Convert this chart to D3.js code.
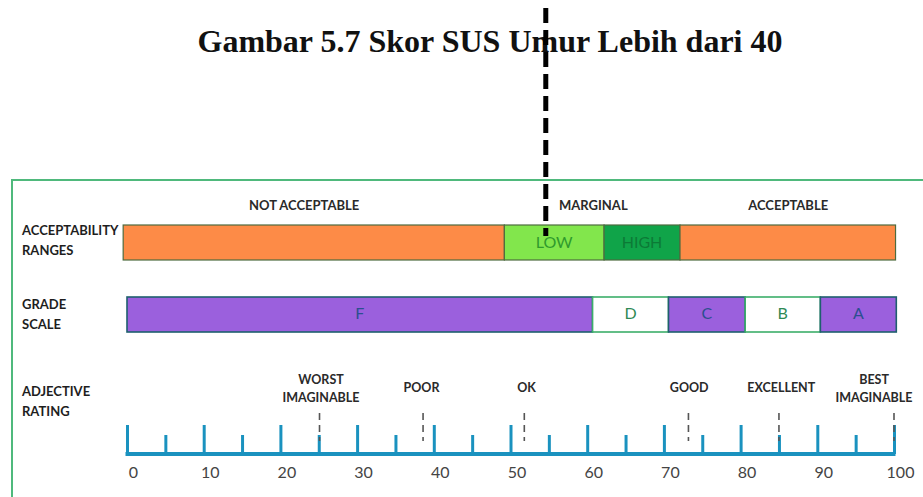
<!DOCTYPE html>
<html>
<head>
<meta charset="utf-8">
<script src="https://cdn.jsdelivr.net/npm/d3@7"></script>
<style>
  body { margin: 0; background: #fff; }
  svg { display: block; }
</style>
</head>
<body>
<svg class="sus" width="923" height="497"></svg>
<script>

// values
var title = "Gambar 5.7 Skor SUS Umur Lebih dari 40";
var score = 54.6;

var rowNames = [["ACCEPTABILITY", "RANGES"], ["GRADE", "SCALE"], ["ADJECTIVE", "RATING"]];

var rangeHeaders = ["NOT ACCEPTABLE", "MARGINAL", "ACCEPTABLE"];
var rangeHeaderAt = [23.1, 60.8, 86.2];
var rangeBounds = [-0.5, 49.2, 62.2, 72.1, 100.2];
var rangeLabels = ["", "LOW", "HIGH", ""];

var grades = ["F", "D", "C", "B", "A"];
var gradeBounds = [0, 60.7, 70.6, 80.6, 90.4, 100.3];

var adjectives = [["WORST", "IMAGINABLE"], ["POOR"], ["OK"], ["GOOD"], ["EXCELLENT"], ["BEST", "IMAGINABLE"]];
var adjectiveAt = [25.1, 38.6, 51.8, 73.2, 85.0, 100];
var adjectiveLabelAt = [25.3, 38.4, 52.1, 73.3, 85.3, 97.4];

var majorTicks = [0, 10, 20, 30, 40, 50, 60, 70, 80, 90, 100];
var minorTicks = [5, 15, 25, 35, 45, 55, 65, 75, 85, 95];

var svg = d3.select("svg.sus");

var x = d3.scaleLinear().domain([0, 100]).range([127, 894]);

var rangeFill = ["#fd8b47", "#82e64c", "#10a449", "#fd8b47"],
    rangeText = ["#000", "#2f9a2c", "#0c7a36", "#000"],
    gradeFill = {F: "#9b60dd", D: "#fff", C: "#9b60dd", B: "#fff", A: "#9b60dd"},
    gradeStroke = {F: "#1f5f6e", D: "#3cae6a", C: "#1f5f6e", B: "#3cae6a", A: "#1f5f6e"},
    gradeText = {F: "#2b4f8f", D: "#2f8a55", C: "#2b4f8f", B: "#2f8a55", A: "#2b4f8f"},
    axisBlue = "#1a92bf",
    sans = "Lato, 'Open Sans', sans-serif";

// title
svg.append("text")
  .attr("x", 490)
  .attr("y", 52)
  .attr("text-anchor", "middle")
  .style("font", "bold 32px 'Liberation Serif', 'Times New Roman', serif")
  .style("fill", "#111")
  .text(title);

// frame
svg.append("rect")
  .attr("x", 12).attr("y", 180)
  .attr("width", 940).attr("height", 340)
  .style("fill", "none")
  .style("stroke", "#4fb97c")
  .style("stroke-width", 2);

// row names
var rowY = [232, 306, 393];
rowNames.forEach(function(lines, i) {
  svg.append("text")
    .attr("x", 22)
    .attr("y", rowY[i])
    .style("font", "bold 13px " + sans)
    .style("fill", "#1e1e1e")
    .selectAll("tspan")
    .data(lines)
    .enter().append("tspan")
    .attr("x", 22)
    .attr("dy", function(d, j) { return j ? 20 : 0; })
    .attr("dominant-baseline", "middle")
    .text(function(d) { return d; });
});

// acceptability headers
svg.selectAll(".rangeHeader")
  .data(rangeHeaders)
  .enter().append("text")
  .attr("class", "rangeHeader")
  .attr("x", function(d, i) { return x(rangeHeaderAt[i]); })
  .attr("y", 207)
  .attr("text-anchor", "middle")
  .attr("dominant-baseline", "middle")
  .style("font", "bold 13px " + sans)
  .style("fill", "#2a2a2a")
  .text(function(d) { return d; });

// acceptability bar
var ranges = rangeLabels.map(function(d, i) {
  return {label: d, x0: rangeBounds[i], x1: rangeBounds[i + 1], i: i};
});

var rg = svg.selectAll(".range")
  .data(ranges)
  .enter().append("g")
  .attr("class", "range");

rg.append("rect")
  .attr("x", function(d) { return x(d.x0); })
  .attr("y", 225)
  .attr("width", function(d) { return x(d.x1) - x(d.x0); })
  .attr("height", 35)
  .style("fill", function(d) { return rangeFill[d.i]; })
  .style("stroke", "#4e6b3f")
  .style("stroke-width", 1.2);

rg.append("text")
  .attr("x", function(d) { return (x(d.x0) + x(d.x1)) / 2; })
  .attr("y", 244)
  .attr("text-anchor", "middle")
  .attr("dominant-baseline", "middle")
  .style("font", "16px " + sans)
  .style("fill", function(d) { return rangeText[d.i]; })
  .text(function(d) { return d.label; });

// grade bar
var gradeCells = grades.map(function(d, i) {
  return {grade: d, x0: gradeBounds[i], x1: gradeBounds[i + 1]};
});

var gg = svg.selectAll(".grade")
  .data(gradeCells)
  .enter().append("g")
  .attr("class", "grade");

gg.append("rect")
  .attr("x", function(d) { return x(d.x0); })
  .attr("y", 297)
  .attr("width", function(d) { return x(d.x1) - x(d.x0); })
  .attr("height", 35)
  .style("fill", function(d) { return gradeFill[d.grade]; })
  .style("stroke", function(d) { return gradeStroke[d.grade]; })
  .style("stroke-width", 1.6);

gg.append("text")
  .attr("x", function(d) { return (x(d.x0) + x(d.x1)) / 2; })
  .attr("y", 315)
  .attr("text-anchor", "middle")
  .attr("dominant-baseline", "middle")
  .style("font", "16px " + sans)
  .style("fill", function(d) { return gradeText[d.grade]; })
  .text(function(d) { return d.grade; });

// adjective rating scale
var baseY = 454;

var major = svg.append("g")
  .attr("transform", "translate(0," + baseY + ")")
  .call(d3.axisTop(x).tickValues(majorTicks).tickSize(29).tickFormat(""));

var minor = svg.append("g")
  .attr("transform", "translate(0," + baseY + ")")
  .call(d3.axisTop(x).tickValues(minorTicks).tickSize(19).tickFormat(""));

[major, minor].forEach(function(a) {
  a.select(".domain").remove();
  a.selectAll("line").style("stroke", axisBlue).style("stroke-width", 3);
});

svg.append("line")
  .attr("x1", x(0) - 1.5).attr("x2", x(100) + 1.5)
  .attr("y1", baseY).attr("y2", baseY)
  .style("stroke", axisBlue)
  .style("stroke-width", 4);

var labels = svg.append("g")
  .attr("transform", "translate(0," + (baseY + 12) + ")")
  .call(d3.axisBottom(x).tickValues(majorTicks).tickSize(0));

labels.select(".domain").remove();
labels.selectAll("text")
  .attr("dx", 6)
  .attr("dy", "0.35em")
  .attr("y", 6)
  .style("font", "16px " + sans)
  .style("fill", "#444");

// adjective markers
svg.selectAll(".adjMark")
  .data(adjectiveAt)
  .enter().append("line")
  .attr("class", "adjMark")
  .attr("x1", function(d) { return x(d); })
  .attr("x2", function(d) { return x(d); })
  .attr("y1", 413)
  .attr("y2", 441)
  .style("stroke", "#555")
  .style("stroke-width", 1.6)
  .style("stroke-dasharray", "7,5");

svg.selectAll(".adjLabel")
  .data(adjectives)
  .enter().append("text")
  .attr("class", "adjLabel")
  .attr("text-anchor", "middle")
  .style("font", "bold 12.5px " + sans)
  .style("fill", "#2a2a2a")
  .each(function(lines, i) {
    var t = d3.select(this),
        y0 = lines.length > 1 ? 381 : 389;
    lines.forEach(function(s, j) {
      t.append("tspan")
        .attr("x", x(adjectiveLabelAt[i]))
        .attr("y", y0 + j * 18)
        .attr("dominant-baseline", "middle")
        .text(s);
    });
  });

// score marker
svg.append("line")
  .attr("x1", x(score)).attr("x2", x(score))
  .attr("y1", 8).attr("y2", 236)
  .style("stroke", "#000")
  .style("stroke-width", 5)
  .style("stroke-dasharray", "15,7");

</script>
</body>
</html>
